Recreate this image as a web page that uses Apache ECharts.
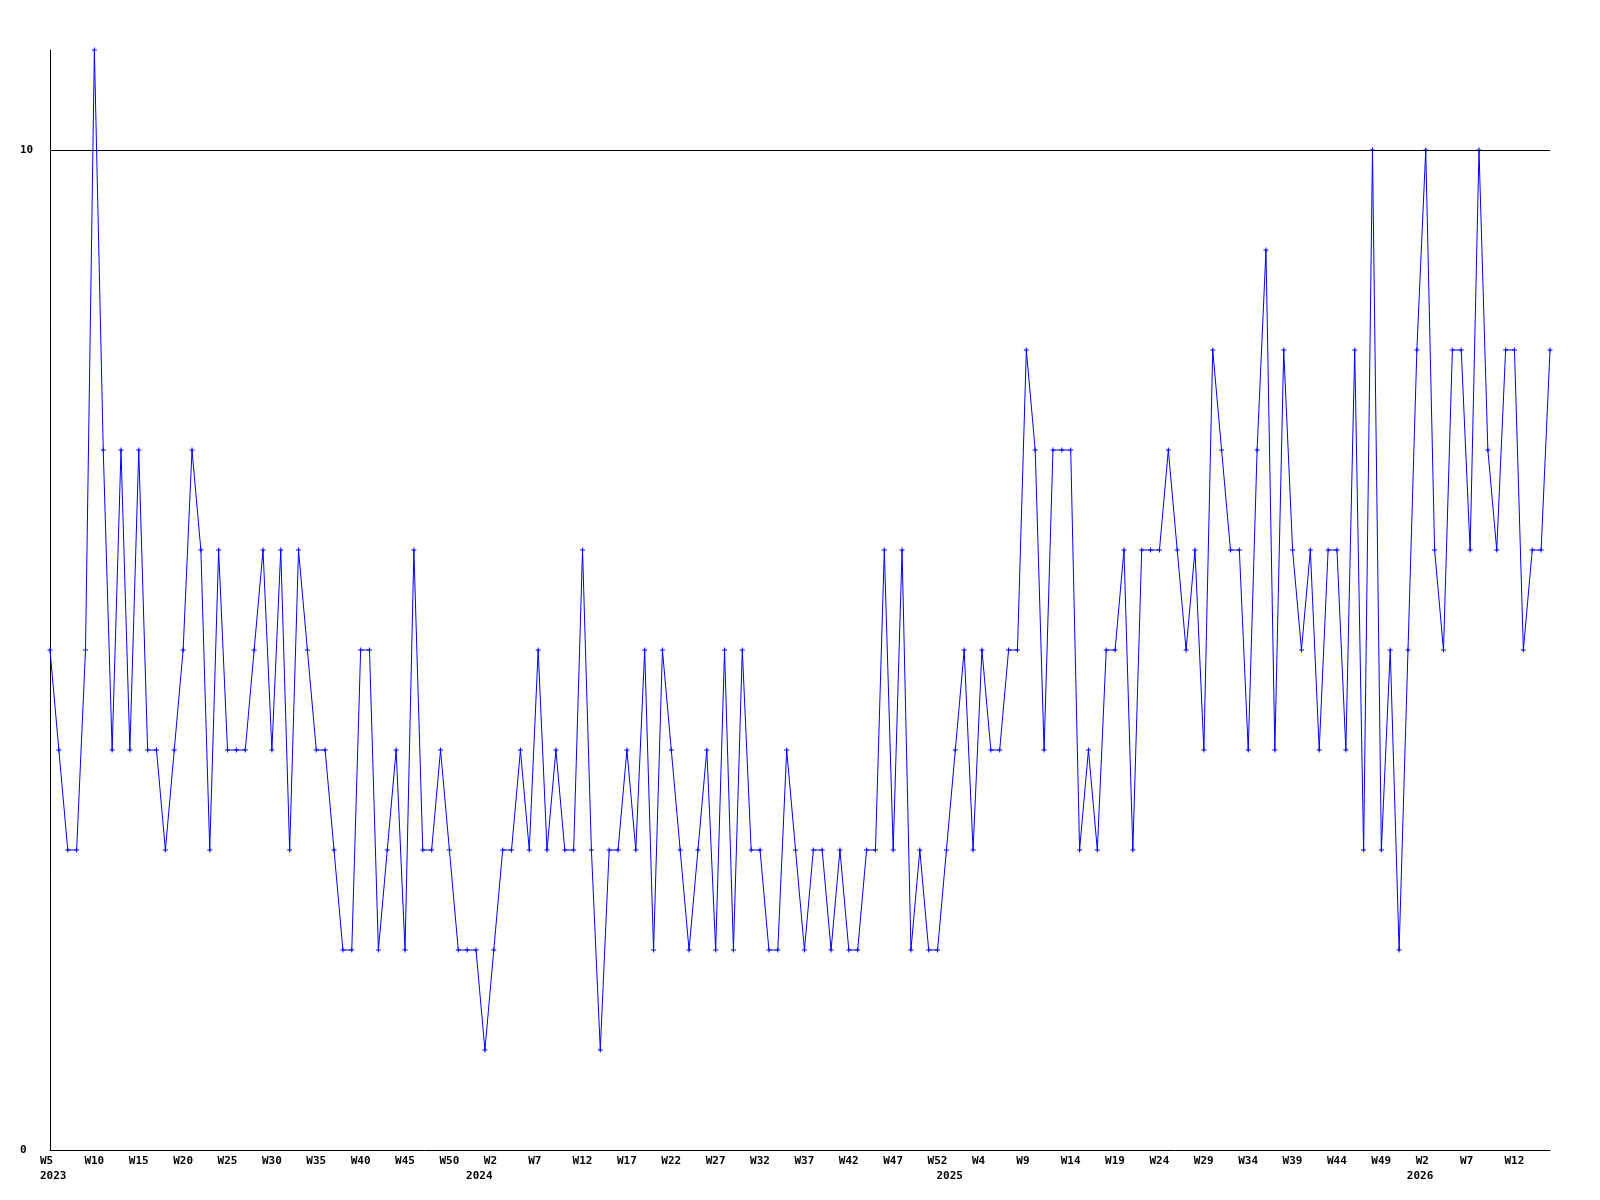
<!DOCTYPE html>
<html><head><meta charset="utf-8">
<script src="https://cdn.jsdelivr.net/npm/echarts@6/dist/echarts.min.js"></script>
<style>html,body{margin:0;padding:0;background:#fff}#c{width:1600px;height:1200px}</style>
</head><body><div id="c"></div>
<script>
// Week segments of the x axis (one point per week)
const years = [2023, 2024, 2025, 2026];
const firstWeek = [5, 0, 0, 1];
const lastWeek = [52, 52, 52, 16];
// Weekly values
const values = [
  5,4,3,3,5,11,7,4,7,4,7,4,4,3,4,5,7,6,3,6,4,4,4,5,6,4,6,3,6,
  5,4,4,3,2,2,5,5,2,3,4,2,6,3,3,4,3,2,2,2,1,2,3,3,4,3,5,3,
  4,3,3,6,3,1,3,3,4,3,5,2,5,4,3,2,3,4,2,5,2,5,3,3,2,2,4,3,
  2,3,3,2,3,2,2,3,3,6,3,6,2,3,2,2,3,4,5,3,5,4,4,5,5,8,7,4,
  7,7,7,3,4,3,5,5,6,3,6,6,6,7,6,5,6,4,8,7,6,6,4,7,9,4,8,6,5,
  6,4,6,6,4,8,3,10,3,5,2,5,8,10,6,5,8,8,6,10,7,6,8,8,5,6,6,8
];
const yTickLabels = [0, 10];
const labelEvery = 5;

const categories = [], weekNums = [], yearAt = {};
years.forEach((y, k) => {
  yearAt[categories.length] = y;
  for (let w = firstWeek[k]; w <= lastWeek[k]; w++) { categories.push(y + '-W' + w); weekNums.push(w); }
});

const FONT = 'DejaVu Sans Mono';
const txt = { fontFamily: FONT, fontWeight: 'bold', fontSize: 11, color: '#000' };

const chart = echarts.init(document.getElementById('c'), null, { renderer: 'canvas' });
chart.setOption({
  backgroundColor: '#fff',
  animation: false,
  grid: { left: 50, right: 50, top: 50, bottom: 50, containLabel: false },
  xAxis: [{
    type: 'category', data: categories, boundaryGap: false, position: 'bottom',
    axisLine: { show: true, lineStyle: { color: '#000', width: 1 } },
    axisTick: { show: false },
    splitLine: { show: false },
    axisLabel: {
      interval: (i) => i % labelEvery === 0,
      margin: 6,
      formatter: (v, i) => '{t|W' + weekNums[i] + '}',
      rich: { t: Object.assign({ width: 20, align: 'left' }, txt) }
    }
  }, {
    type: 'category', data: categories, boundaryGap: false, position: 'bottom',
    axisLine: { show: false }, axisTick: { show: false }, splitLine: { show: false },
    axisLabel: {
      interval: (i) => yearAt[i] !== undefined,
      margin: 21,
      formatter: (v, i) => '{t|' + yearAt[i] + '}',
      rich: { t: Object.assign({ width: 20, align: 'left' }, txt) }
    }
  }],
  yAxis: {
    type: 'value', min: 0, max: 11, interval: 10,
    axisLine: { show: true, lineStyle: { color: '#000', width: 1 } },
    axisTick: { show: false },
    splitLine: { show: false },
    axisLabel: Object.assign({
      align: 'left', margin: 30, showMaxLabel: false,
      formatter: (v) => yTickLabels.includes(v) ? String(v) : ''
    }, txt)
  },
  series: [{
    type: 'line', data: values, xAxisIndex: 0,
    symbol: 'path://M2,0L3,0L3,2L5,2L5,3L3,3L3,5L2,5L2,3L0,3L0,2L2,2Z',
    symbolSize: 5, showAllSymbol: true,
    lineStyle: { color: '#0000ff', width: 1 },
    itemStyle: { color: '#0000ff' },
    markLine: {
      silent: true, symbol: 'none', label: { show: false },
      lineStyle: { color: '#000', width: 1, type: 'solid' },
      data: [{ yAxis: yTickLabels[1] }]
    }
  }]
});
</script></body></html>
